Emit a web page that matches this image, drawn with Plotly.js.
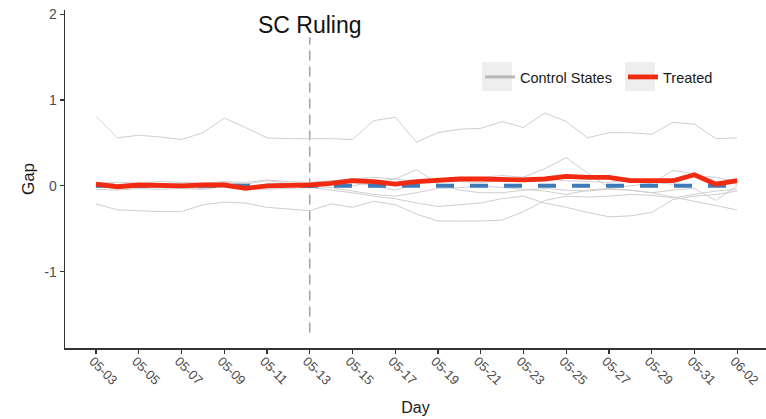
<!DOCTYPE html>
<html>
<head>
<meta charset="utf-8">
<script src="https://cdn.plot.ly/plotly-3.0.1.min.js"></script>
<style>html,body{margin:0;padding:0;background:#fff;}#chart{width:766px;height:419px;}</style>
</head>
<body>
<div id="chart"></div>
<script>
// ---- data ----
const days = ['05-03','05-04','05-05','05-06','05-07','05-08','05-09','05-10','05-11','05-12',
  '05-13','05-14','05-15','05-16','05-17','05-18','05-19','05-20','05-21','05-22',
  '05-23','05-24','05-25','05-26','05-27','05-28','05-29','05-30','05-31','06-01','06-02'];
const rulingDay = '05-13';
const rulingLabel = 'SC Ruling';

const treated = [0.02,-0.01,0.01,0.0,0.0,0.01,0.01,-0.03,0.0,0.005,0.01,
  0.03,0.06,0.05,0.02,0.05,0.07,0.08,0.08,0.07,0.07,0.08,0.11,0.10,0.10,0.06,0.06,0.06,0.13,0.02,0.06];

const control1 = [0.81,0.56,0.59,0.57,0.54,0.62,0.79,0.68,0.56,0.55,0.55,
  0.55,0.54,0.76,0.80,0.51,0.62,0.66,0.67,0.75,0.68,0.85,0.75,0.56,0.62,0.62,0.60,0.74,0.72,0.55,0.56];
const control2 = [-0.21,-0.28,-0.29,-0.30,-0.30,-0.22,-0.19,-0.20,-0.25,-0.27,-0.29,
  -0.21,-0.25,-0.18,-0.22,-0.33,-0.41,-0.41,-0.41,-0.40,-0.30,-0.17,-0.12,-0.13,-0.12,-0.10,-0.11,-0.14,-0.10,-0.06,-0.04];
const control3 = [-0.04,-0.05,-0.03,-0.04,-0.03,-0.04,-0.01,-0.03,-0.04,-0.03,-0.02,
  -0.05,-0.08,-0.12,-0.15,-0.20,-0.24,-0.22,-0.20,-0.15,-0.12,-0.20,-0.25,-0.31,-0.36,-0.35,-0.31,-0.16,-0.12,-0.10,-0.06];
const control4 = [0.02,0.01,0.03,0.02,0.01,0.02,0.04,0.02,0.06,0.03,0.02,
  0.03,0.0,0.05,0.08,0.19,0.02,-0.05,-0.08,-0.08,-0.05,-0.03,-0.05,-0.06,-0.04,-0.05,-0.08,-0.13,-0.18,-0.23,-0.28];
const control5 = [0.0,-0.01,0.01,0.0,0.01,0.0,0.02,-0.01,0.0,0.01,0.0,
  0.02,0.04,0.0,-0.05,0.03,0.06,0.05,0.04,0.06,0.10,0.20,0.33,0.15,-0.02,0.0,0.03,0.18,0.14,0.05,0.02];
const control6 = [0.03,0.04,0.03,0.05,0.04,0.03,0.05,0.04,0.07,0.05,0.04,
  0.06,0.08,0.10,0.08,0.05,0.08,0.10,0.10,0.12,0.10,0.08,0.06,0.05,0.04,0.07,0.04,0.02,0.12,0.10,0.05];
const control7 = [-0.02,-0.01,-0.02,-0.01,-0.02,-0.03,-0.01,-0.04,-0.02,-0.01,-0.01,
  -0.02,-0.06,-0.10,-0.12,-0.08,-0.03,-0.02,0.0,-0.02,-0.04,-0.06,-0.10,-0.05,-0.03,-0.05,-0.08,-0.05,-0.03,-0.17,0.0];
const controls = [control1, control2, control3, control4, control5, control6, control7];

const refX = [days[0], days[days.length - 1]];
const refY = [0, 0];
const tickDays = days.filter((d, i) => i % 2 === 0);

// ---- styles ----
const FONT = 'Liberation Sans, Arial, Helvetica, sans-serif';
const GREY_LINE = '#cfcfcf';
const RED = '#f22a12';
const BLUE = '#3d7ab8';
const rulingIdx = days.indexOf(rulingDay);

const traces = [];
controls.forEach((c) => {
  traces.push({x: days, y: c, type: 'scatter', mode: 'lines',
    line: {color: GREY_LINE, width: 1}, showlegend: false, hoverinfo: 'skip'});
});
// legend entry for the control states
traces.push({x: [null], y: [null], type: 'scatter', mode: 'lines', name: 'Control States',
  line: {color: '#b8b8b8', width: 3}, legend: 'legend', showlegend: true});
// zero reference line
traces.push({x: refX, y: refY, type: 'scatter', mode: 'lines', showlegend: false,
  line: {color: BLUE, width: 4, dash: '18px,16px'}, hoverinfo: 'skip'});
// treated
traces.push({x: days, y: treated, type: 'scatter', mode: 'lines', name: 'Treated',
  line: {color: RED, width: 4.8}, legend: 'legend2', showlegend: true});

const W = 766, H = 419;
const mL = 65, mR = 0, mT = 10, mB = 71;
const pW = W - mL - mR, pH = H - mT - mB;
const px = (p) => (p - mL) / pW;
const py = (p) => (H - mB - p) / pH;

const layout = {
  width: W, height: H,
  margin: {l: mL, r: mR, t: mT, b: mB},
  paper_bgcolor: '#ffffff', plot_bgcolor: '#ffffff',
  font: {family: FONT, color: '#1a1a1a'},
  xaxis: {
    type: 'category', range: [-1.45, 31.35],
    tickvals: tickDays, ticktext: tickDays, tickangle: 45,
    tickfont: {size: 13, color: '#4d4d4d', family: FONT},
    ticklabelstandoff: -5, ticklabelshift: -3,
    ticks: 'outside', ticklen: 4, tickwidth: 1.2, tickcolor: '#333333',
    showline: true, linecolor: '#333333', linewidth: 1.5,
    showgrid: false, zeroline: false, automargin: false,
    title: {text: 'Day', font: {size: 16, color: '#1a1a1a', family: FONT}, standoff: 15}
  },
  yaxis: {
    range: [-1.89, 2.05], tickvals: [-1, 0, 1, 2], ticktext: ['-1', '0', '1', '2'],
    tickfont: {size: 14, color: '#4d4d4d', family: FONT},
    ticks: 'outside', ticklen: 4, tickwidth: 1.2, tickcolor: '#333333',
    showline: true, linecolor: '#333333', linewidth: 1.5,
    showgrid: false, zeroline: false, automargin: false,
    title: {text: 'Gap', font: {size: 17, color: '#1a1a1a', family: FONT}, standoff: 5}
  },
  legend: {orientation: 'h', x: px(480), xanchor: 'left', y: py(77), yanchor: 'middle',
    bgcolor: 'rgba(0,0,0,0)', font: {size: 14.5, color: '#1a1a1a', family: FONT}},
  legend2: {orientation: 'h', x: px(623), xanchor: 'left', y: py(77), yanchor: 'middle',
    bgcolor: 'rgba(0,0,0,0)', font: {size: 14.5, color: '#1a1a1a', family: FONT}},
  shapes: [
    {type: 'line', xref: 'x', yref: 'y', x0: rulingIdx, x1: rulingIdx, y0: -1.71, y1: 1.73,
      line: {color: '#a6a6a6', width: 1.6, dash: '10px,6px'}, layer: 'below'},
    {type: 'rect', xref: 'paper', yref: 'paper', x0: px(482), x1: px(512), y0: py(91), y1: py(62),
      fillcolor: '#eeeeee', line: {width: 0}, layer: 'below'},
    {type: 'rect', xref: 'paper', yref: 'paper', x0: px(625), x1: px(655), y0: py(91), y1: py(62),
      fillcolor: '#eeeeee', line: {width: 0}, layer: 'below'}
  ],
  annotations: [
    {xref: 'x', yref: 'y', x: rulingIdx, y: 1.88, text: rulingLabel, showarrow: false,
      xanchor: 'center', yanchor: 'middle', font: {size: 23, color: '#111111', family: FONT}}
  ]
};

Plotly.newPlot('chart', traces, layout, {displayModeBar: false, staticPlot: true});
</script>
</body>
</html>
